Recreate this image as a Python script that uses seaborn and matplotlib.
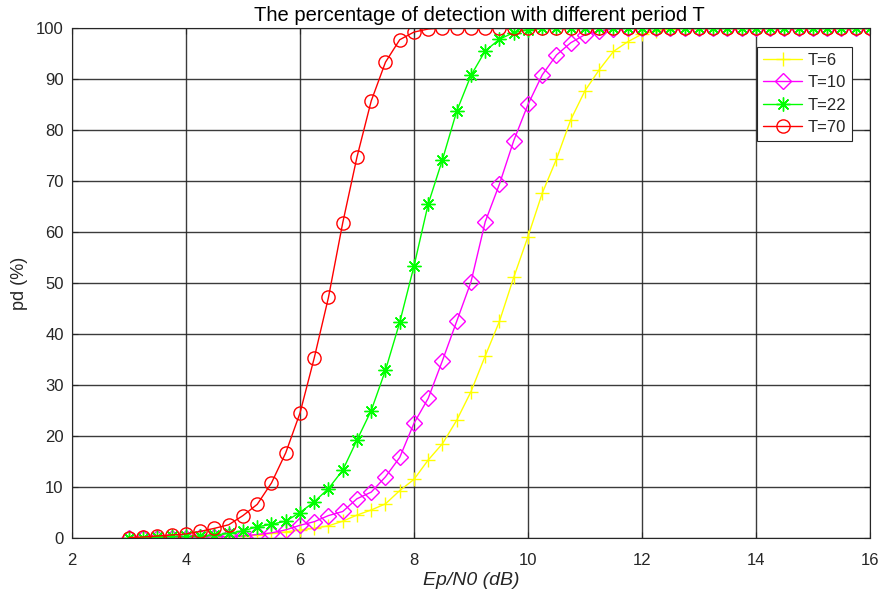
import matplotlib
matplotlib.use("Agg")
import matplotlib.pyplot as plt
import seaborn as sns
import pandas as pd

x_db = [3.0, 3.25, 3.5, 3.75, 4.0, 4.25, 4.5, 4.75, 5.0, 5.25, 5.5, 5.75,
        6.0, 6.25, 6.5, 6.75, 7.0, 7.25, 7.5, 7.75, 8.0, 8.25, 8.5, 8.75,
        9.0, 9.25, 9.5, 9.75, 10.0, 10.25, 10.5, 10.75, 11.0, 11.25, 11.5, 11.75,
        12.0, 12.25, 12.5, 12.75, 13.0, 13.25, 13.5, 13.75, 14.0, 14.25, 14.5, 14.75,
        15.0, 15.25, 15.5, 15.75, 16.0]

pd_T6 = [0.0, 0.0, 0.0, 0.1, 0.1, 0.1, 0.2, 0.3, 0.4, 0.6, 0.9, 1.2,
         1.6, 1.9, 2.4, 3.3, 4.5, 5.5, 6.7, 9.3, 11.5, 15.3, 18.5, 23.1,
         28.7, 35.7, 42.5, 51.1, 59.1, 67.6, 74.3, 82.0, 87.7, 91.8, 95.4, 97.3,
         98.8, 99.5, 99.8, 100, 100, 100, 100, 100, 100, 100, 100, 100,
         100, 100, 100, 100, 100]

pd_T10 = [0.0, 0.0, 0.1, 0.1, 0.1, 0.2, 0.2, 0.3, 0.4, 0.7, 1.0, 1.6,
          2.5, 3.2, 4.4, 5.2, 7.7, 9.0, 12.0, 15.8, 22.5, 27.4, 34.8, 42.5,
          50.2, 62.0, 69.4, 77.9, 85.0, 90.8, 94.7, 97.1, 98.7, 99.4, 99.8, 100,
          100, 100, 100, 100, 100, 100, 100, 100, 100, 100, 100, 100,
          100, 100, 100, 100, 100]

pd_T22 = [0.1, 0.1, 0.2, 0.3, 0.3, 0.4, 0.6, 0.9, 1.4, 2.2, 2.7, 3.3,
          5.0, 7.1, 9.7, 13.3, 19.2, 25.0, 32.9, 42.3, 53.3, 65.5, 74.2, 83.7,
          90.7, 95.5, 97.8, 99.1, 99.7, 99.9, 100, 100, 100, 100, 100, 100,
          100, 100, 100, 100, 100, 100, 100, 100, 100, 100, 100, 100,
          100, 100, 100, 100, 100]

pd_T70 = [0.1, 0.2, 0.4, 0.6, 0.8, 1.3, 1.9, 2.6, 4.4, 6.6, 10.8, 16.7,
          24.5, 35.3, 47.2, 61.8, 74.7, 85.7, 93.3, 97.7, 99.2, 99.8, 100, 100,
          100, 100, 100, 100, 100, 100, 100, 100, 100, 100, 100, 100,
          100, 100, 100, 100, 100, 100, 100, 100, 100, 100, 100, 100,
          100, 100, 100, 100, 100]

series_labels = ["T=6", "T=10", "T=22", "T=70"]
series_values = [pd_T6, pd_T10, pd_T22, pd_T70]
series_colors = ["#FFFF00", "#FF00FF", "#00FF00", "#FF0000"]
series_markers = ["+", "D", (8, 2, 0), "o"]
series_msize = [10, 8.5, 10, 9.5]

x_ticks = [2, 4, 6, 8, 10, 12, 14, 16]
y_ticks = [0, 10, 20, 30, 40, 50, 60, 70, 80, 90, 100]

sns.set_theme(style="white")
plt.rcParams["font.family"] = ["Liberation Sans", "DejaVu Sans"]

fig = plt.figure(figsize=(8.8, 5.98), dpi=100)
ax = fig.add_axes([0.0818, 0.1003, 0.9068, 0.8529])

for lab, vals, col, mk, ms in zip(series_labels, series_values, series_colors,
                                   series_markers, series_msize):
    df = pd.DataFrame({"x": x_db, "y": vals})
    sns.lineplot(data=df, x="x", y="y", ax=ax, color=col, marker=mk,
                 markersize=ms, markerfacecolor="none", mec=col, mew=1.0,
                 linewidth=1.0, label=lab, errorbar=None)

ax.set_xlim(2, 16)
ax.set_ylim(0, 100)
ax.set_xticks(x_ticks)
ax.set_yticks(y_ticks)
ax.grid(True, color="#262626", linewidth=1.0, alpha=0.9)
ax.set_axisbelow(True)
for sp in ax.spines.values():
    sp.set_color("#262626")
    sp.set_linewidth(0.8)
    sp.set_visible(True)
ax.tick_params(axis="both", labelsize=12, colors="#262626", direction="in",
               length=4, width=0.8, top=True, right=True, bottom=True, left=True,
               labeltop=False, labelright=False)
ax.tick_params(axis="x", pad=11)
ax.tick_params(axis="y", pad=6)
ax.set_xlabel("Ep/N0 (dB)", fontsize=14, style="italic", color="#262626", labelpad=3)
ax.set_ylabel("pd (%)", fontsize=13, color="#262626", labelpad=6)
ax.set_title("The percentage of detection with different period T", fontsize=14.5,
             color="black", pad=5, x=0.511)

leg = ax.legend(loc="upper right", bbox_to_anchor=(0.977, 0.963), borderaxespad=0,
                fontsize=12, frameon=True, fancybox=False, framealpha=1,
                edgecolor="#262626", handlelength=2.35, labelspacing=0.45,
                borderpad=0.35, handletextpad=0.3)
leg.get_frame().set_linewidth(0.8)

fig.savefig("out.png", dpi=100)
